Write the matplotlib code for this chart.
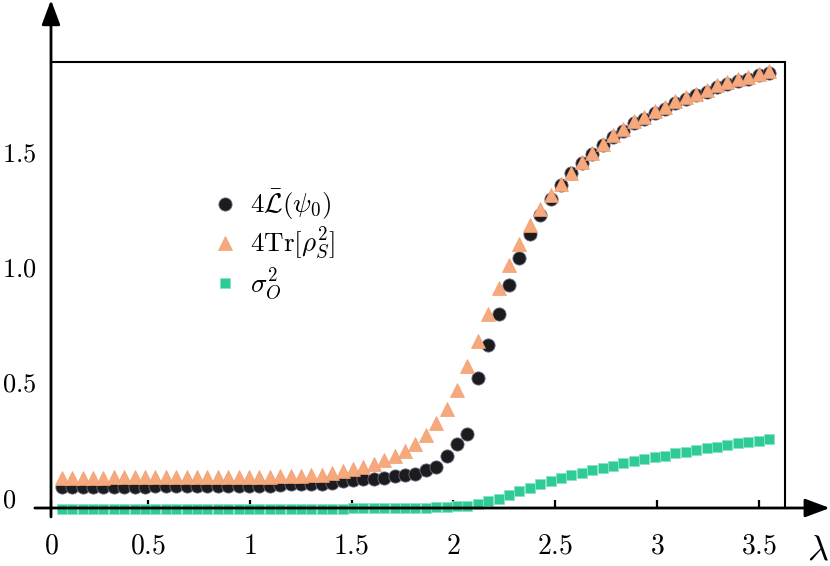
import numpy as np
import matplotlib
matplotlib.use("Agg")
import matplotlib.pyplot as plt

plt.rcParams['mathtext.fontset'] = 'cm'
plt.rcParams['font.family'] = 'DejaVu Serif'

# lambda grid (69 points)
lam = np.linspace(0.078, 3.549, 69)

# 4 L(psi_0)
L_vals = [0.042, 0.042, 0.042, 0.042, 0.042, 0.043, 0.043, 0.043, 0.043,
          0.047, 0.047, 0.048, 0.048, 0.048, 0.048, 0.048, 0.048, 0.048, 0.048, 0.048, 0.048,
          0.054, 0.055, 0.055, 0.055, 0.056,
          0.062, 0.068, 0.073, 0.077, 0.078, 0.081, 0.091, 0.097, 0.101, 0.116,
          0.132, 0.177, 0.229, 0.276, 0.517, 0.660, 0.795, 0.922, 1.040, 1.143,
          1.225, 1.294, 1.358, 1.407, 1.453, 1.491, 1.529, 1.567, 1.593, 1.625,
          1.645, 1.668, 1.688, 1.714, 1.732, 1.747, 1.761, 1.781, 1.796, 1.807,
          1.819, 1.833, 1.842]

# 4 Tr[rho_S^2]
tr_vals = [0.084, 0.084, 0.084, 0.084, 0.084, 0.085, 0.085, 0.085, 0.086,
           0.087, 0.088, 0.088, 0.088, 0.088, 0.088, 0.088, 0.088, 0.088, 0.089, 0.089, 0.089,
           0.092, 0.093, 0.093, 0.094, 0.096,
           0.103, 0.113, 0.120, 0.132, 0.142, 0.159, 0.178, 0.202, 0.232, 0.270,
           0.320, 0.381, 0.465, 0.568, 0.678, 0.796, 0.907, 1.010, 1.101, 1.183,
           1.254, 1.313, 1.361, 1.410, 1.457, 1.497, 1.535, 1.575, 1.601, 1.633,
           1.652, 1.676, 1.697, 1.722, 1.739, 1.754, 1.770, 1.789, 1.804, 1.815,
           1.826, 1.841, 1.850]

# sigma_O^2
sig_vals = [-0.052] * 28 + [-0.049, -0.049, -0.049, -0.049, -0.049, -0.049,
            -0.048, -0.046, -0.043, -0.043, -0.040, -0.038, -0.029, -0.019, -0.007,
            0.007, 0.024, 0.040, 0.057, 0.071, 0.082, 0.094, 0.106, 0.117, 0.126,
            0.136, 0.147, 0.155, 0.164, 0.173, 0.180, 0.190, 0.196, 0.204, 0.212,
            0.219, 0.226, 0.233, 0.239, 0.245, 0.251]

xtick_vals = [0.0255, 0.5, 1, 1.5, 2, 2.5, 3, 3.5]
xtick_labels = ['$0$', '$0.5$', '$1$', '$1.5$', '$2$', '$2.5$', '$3$', '$3.5$']
ytick_vals = [0, 0.5, 1.0, 1.5]
ytick_labels = ['$0$', '$0.5$', '$1.0$', '$1.5$']

fig = plt.figure(figsize=(8.3, 5.66), dpi=100)
ax = fig.add_axes([51 / 830, 1 - 508 / 566, 734 / 830, 446 / 566])

ax.plot(lam, L_vals, 'o', color='#1c1c1e', mec='#6a6a85', mew=0.6, ms=9.5,
        label=r'$4\bar{\mathcal{L}}(\psi_0)$', zorder=3, clip_on=False)
ax.plot(lam, tr_vals, '^', color='#f6a97c', mec='#f3a070', mew=0.5, ms=10.5,
        label=r'$4\mathrm{Tr}[\rho_S^2]$', zorder=4, clip_on=False)
ax.plot(lam, sig_vals, 's', color='#2ecb96', mec='#8ae3c4', mew=0.6, ms=7.2,
        label=r'$\sigma_O^2$', zorder=2, clip_on=False)

ax.set_xlim(0.0255, 3.627)
ax.set_ylim(-0.0478, 1.891)

ax.set_xticks(xtick_vals)
ax.set_xticklabels(xtick_labels, fontsize=20)
ax.set_yticks(ytick_vals)
ax.set_yticklabels(ytick_labels, fontsize=19)
ax.tick_params(axis='x', direction='in', length=6, width=1.6, pad=18)
ax.tick_params(axis='y', length=0, pad=35)
for t in ax.get_yticklabels():
    t.set_horizontalalignment('left')

ax.spines['left'].set_visible(False)
ax.spines['bottom'].set_visible(False)
ax.spines['top'].set_linewidth(1.5)
ax.spines['right'].set_linewidth(1.5)

# arrow axes
ax.annotate('', xy=(0, 1.139), xytext=(0, -0.02), xycoords='axes fraction',
            arrowprops=dict(arrowstyle='-|>,head_length=0.75,head_width=0.28',
                            lw=2.0, color='black', shrinkA=0, shrinkB=0,
                            mutation_scale=20))
ax.annotate('', xy=(1.061, 0), xytext=(-0.022, 0), xycoords='axes fraction',
            arrowprops=dict(arrowstyle='-|>,head_length=0.75,head_width=0.28',
                            lw=2.0, color='black', shrinkA=0, shrinkB=0,
                            mutation_scale=20))

fig.text(818 / 830, 1 - 550 / 566, r'$\lambda$', fontsize=26, ha='center', va='center')

leg = ax.legend(loc='upper left', bbox_to_anchor=(213 / 830, 1 - 188 / 566),
                bbox_transform=fig.transFigure, frameon=False, fontsize=19.5,
                handlelength=0.9, handletextpad=0.45, labelspacing=0.15,
                borderpad=0, borderaxespad=0)

fig.savefig('out.png', dpi=100)
